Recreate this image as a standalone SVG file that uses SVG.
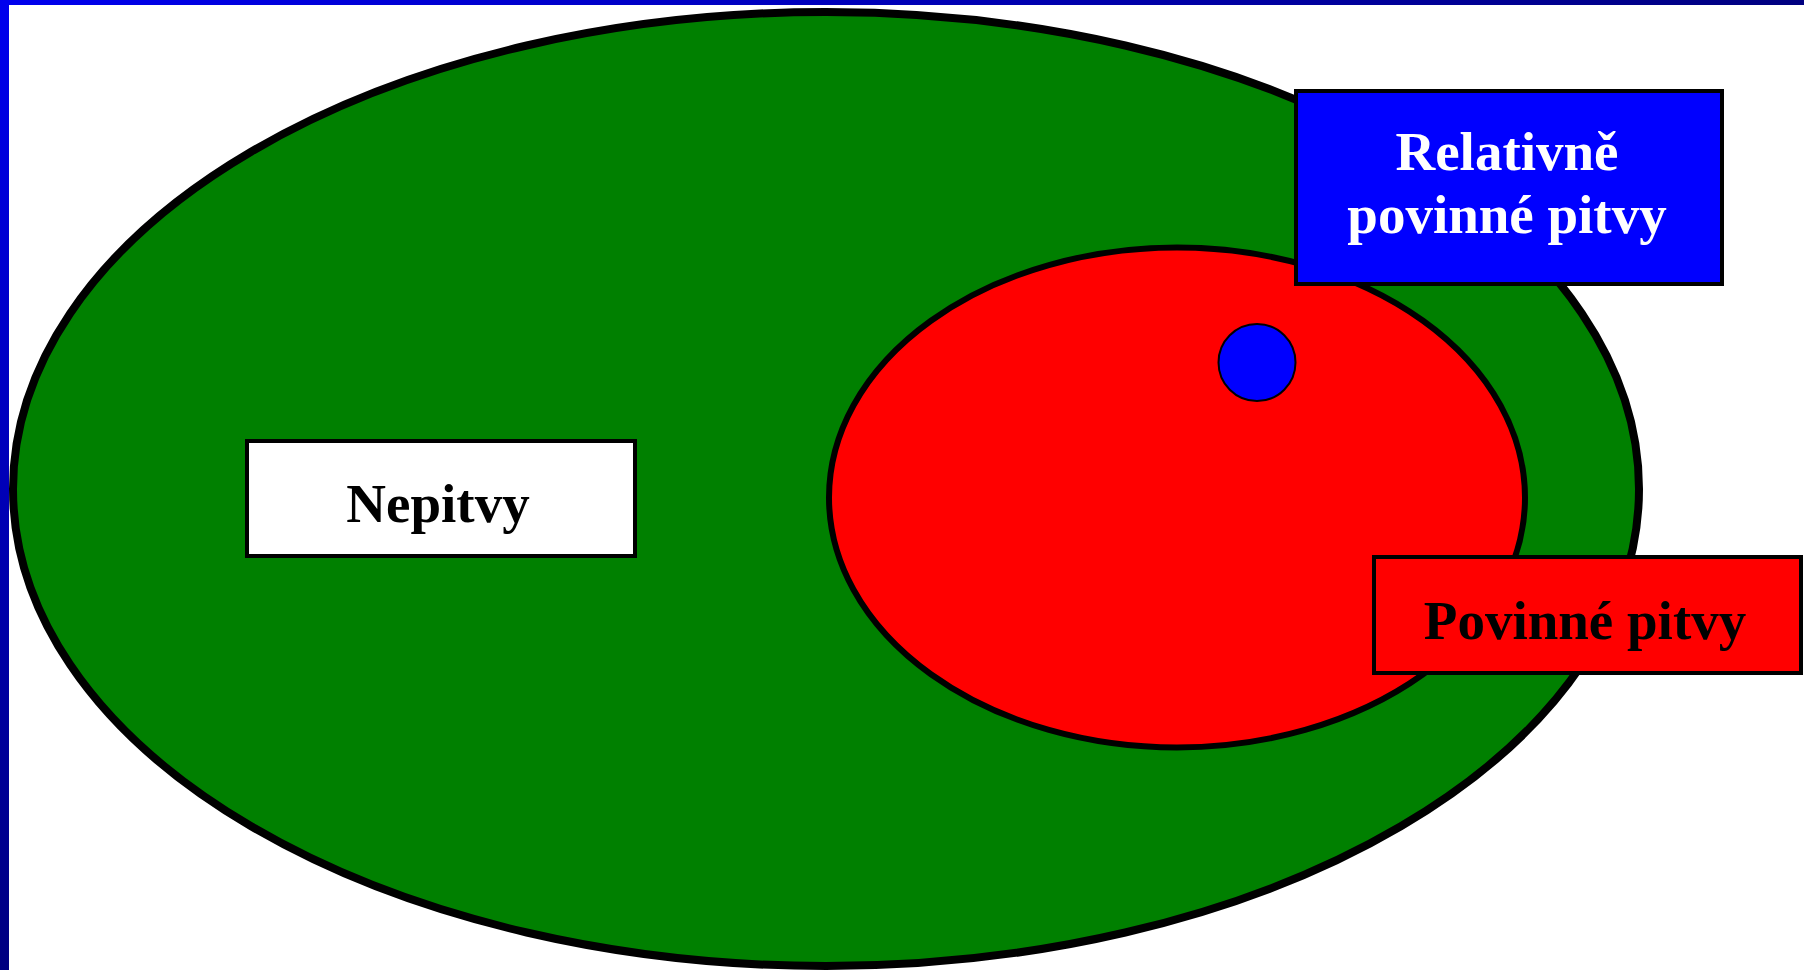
<svg xmlns="http://www.w3.org/2000/svg" width="1804" height="970" viewBox="0 0 1804 970">
  <defs>
    <linearGradient id="topbar" x1="0" y1="0" x2="1" y2="0">
      <stop offset="0" stop-color="#0000ee"/>
      <stop offset="1" stop-color="#000080"/>
    </linearGradient>
    <linearGradient id="leftbar" x1="0" y1="0" x2="0" y2="1">
      <stop offset="0" stop-color="#0000ee"/>
      <stop offset="1" stop-color="#000080"/>
    </linearGradient>
  </defs>
  <style>
    .lbl { font-family: "Liberation Serif", "Times New Roman", serif; font-weight: bold; font-size: 55px; text-anchor: middle; }
    .box { stroke: #000; stroke-width: 4; }
  </style>
  <rect x="0" y="0" width="1804" height="970" fill="#fff"/>
  <g id="set-all">
    <ellipse cx="826" cy="489" rx="813" ry="477" fill="#008000" stroke="#000" stroke-width="8"/>
  </g>
  <g id="set-povinne">
    <ellipse cx="1177" cy="497.5" rx="348" ry="250" fill="#ff0000" stroke="#000" stroke-width="6"/>
  </g>
  <g id="set-relativne">
    <circle cx="1257" cy="362.5" r="38.5" fill="#0000ff" stroke="#000" stroke-width="2"/>
  </g>
  <g id="label-nepitvy">
    <rect class="box" x="247" y="441" width="388" height="115" fill="#ffffff"/>
    <text class="lbl" x="438" y="522" fill="#000">Nepitvy</text>
  </g>
  <g id="label-relativne">
    <rect class="box" x="1296" y="91" width="426" height="193" fill="#0000ff"/>
    <text class="lbl" x="1507" y="170" fill="#fff">Relativně</text>
    <text class="lbl" x="1507" y="233" fill="#fff">povinné pitvy</text>
  </g>
  <g id="label-povinne">
    <rect class="box" x="1374" y="557" width="427" height="116" fill="#ff0000"/>
    <text class="lbl" x="1585" y="639" fill="#000">Povinné pitvy</text>
  </g>
  <g id="connectors"></g>
  <rect x="0" y="0" width="1804" height="5" fill="url(#topbar)"/>
  <rect x="0" y="0" width="9" height="970" fill="url(#leftbar)"/>
</svg>
